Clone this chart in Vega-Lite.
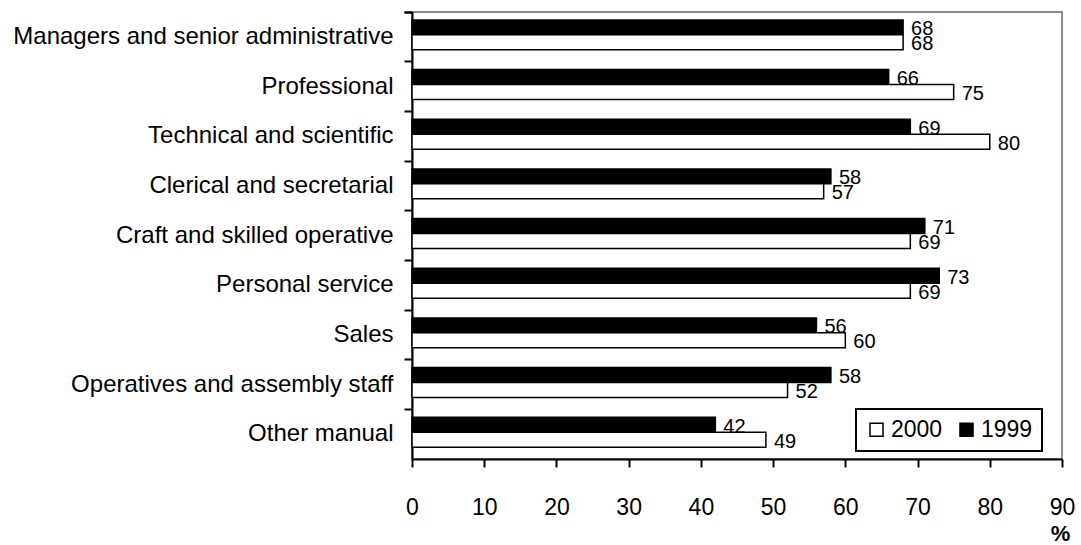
{
  "$schema": "https://vega.github.io/schema/vega-lite/v6.json",
  "width": 650,
  "height": 447,
  "autosize": {"type": "none"},
  "padding": {"left": 412, "top": 12, "right": 19, "bottom": 86},
  "background": "white",
  "config": {
    "font": "Liberation Sans",
    "view": {"stroke": "#8c8c8c", "strokeWidth": 2},
    "axis": {"grid": false, "domainColor": "black", "tickColor": "black", "labelColor": "black", "titleColor": "black", "domainWidth": 2, "tickWidth": 2}
  },
  "data": {
    "values": [
      {"occupation": "Managers and senior administrative", "year": "1999", "value": 68},
      {"occupation": "Managers and senior administrative", "year": "2000", "value": 68},
      {"occupation": "Professional", "year": "1999", "value": 66},
      {"occupation": "Professional", "year": "2000", "value": 75},
      {"occupation": "Technical and scientific", "year": "1999", "value": 69},
      {"occupation": "Technical and scientific", "year": "2000", "value": 80},
      {"occupation": "Clerical and secretarial", "year": "1999", "value": 58},
      {"occupation": "Clerical and secretarial", "year": "2000", "value": 57},
      {"occupation": "Craft and skilled operative", "year": "1999", "value": 71},
      {"occupation": "Craft and skilled operative", "year": "2000", "value": 69},
      {"occupation": "Personal service", "year": "1999", "value": 73},
      {"occupation": "Personal service", "year": "2000", "value": 69},
      {"occupation": "Sales", "year": "1999", "value": 56},
      {"occupation": "Sales", "year": "2000", "value": 60},
      {"occupation": "Operatives and assembly staff", "year": "1999", "value": 58},
      {"occupation": "Operatives and assembly staff", "year": "2000", "value": 52},
      {"occupation": "Other manual", "year": "1999", "value": 42},
      {"occupation": "Other manual", "year": "2000", "value": 49}
    ]
  },
  "encoding": {
    "y": {
      "field": "occupation",
      "type": "nominal",
      "sort": ["Managers and senior administrative", "Professional", "Technical and scientific", "Clerical and secretarial", "Craft and skilled operative", "Personal service", "Sales", "Operatives and assembly staff", "Other manual"],
      "scale": {"paddingInner": 0, "paddingOuter": 0},
      "axis": {"title": null, "labelFontSize": 24, "labelPadding": 11, "tickSize": 8, "bandPosition": 0, "tickExtra": true, "labelLimit": 0}
    },
    "yOffset": {
      "field": "year",
      "type": "nominal",
      "sort": ["1999", "2000"],
      "scale": {"paddingInner": 0, "paddingOuter": 0.657, "align": 0.4}
    }
  },
  "layer": [
    {
      "mark": {"type": "bar", "stroke": "black", "strokeWidth": 1.5},
      "encoding": {
        "x": {
          "field": "value",
          "type": "quantitative",
          "scale": {"domain": [0, 90], "nice": false},
          "axis": {"values": [0, 10, 20, 30, 40, 50, 60, 70, 80, 90], "labelFlush": false, "labelFontSize": 23, "labelPadding": 29, "tickSize": 8, "title": "%", "titleFontSize": 22, "titleFontWeight": "bold", "titleX": 648, "titleY": 81, "titleBaseline": "alphabetic", "titleAlign": "center"}
        },
        "color": {
          "field": "year",
          "type": "nominal",
          "scale": {"domain": ["2000", "1999"], "range": ["white", "black"]},
          "legend": {"title": null, "orient": "none", "legendX": 444, "legendY": 397, "direction": "horizontal", "strokeColor": "black", "fillColor": "white", "padding": 9, "symbolType": "square", "symbolSize": 170, "symbolStrokeColor": "black", "symbolStrokeWidth": 1.5, "labelFontSize": 23, "labelColor": "black", "labelOffset": 3, "columnPadding": 12, "encode": {"legend": {"update": {"strokeWidth": {"value": 2}}}}}
        }
      }
    },
    {
      "mark": {"type": "text", "align": "left", "baseline": "middle", "dx": 8, "dy": 2, "fontSize": 20, "color": "black"},
      "encoding": {
        "x": {"field": "value", "type": "quantitative"},
        "text": {"field": "value", "type": "quantitative"}
      }
    }
  ]
}
